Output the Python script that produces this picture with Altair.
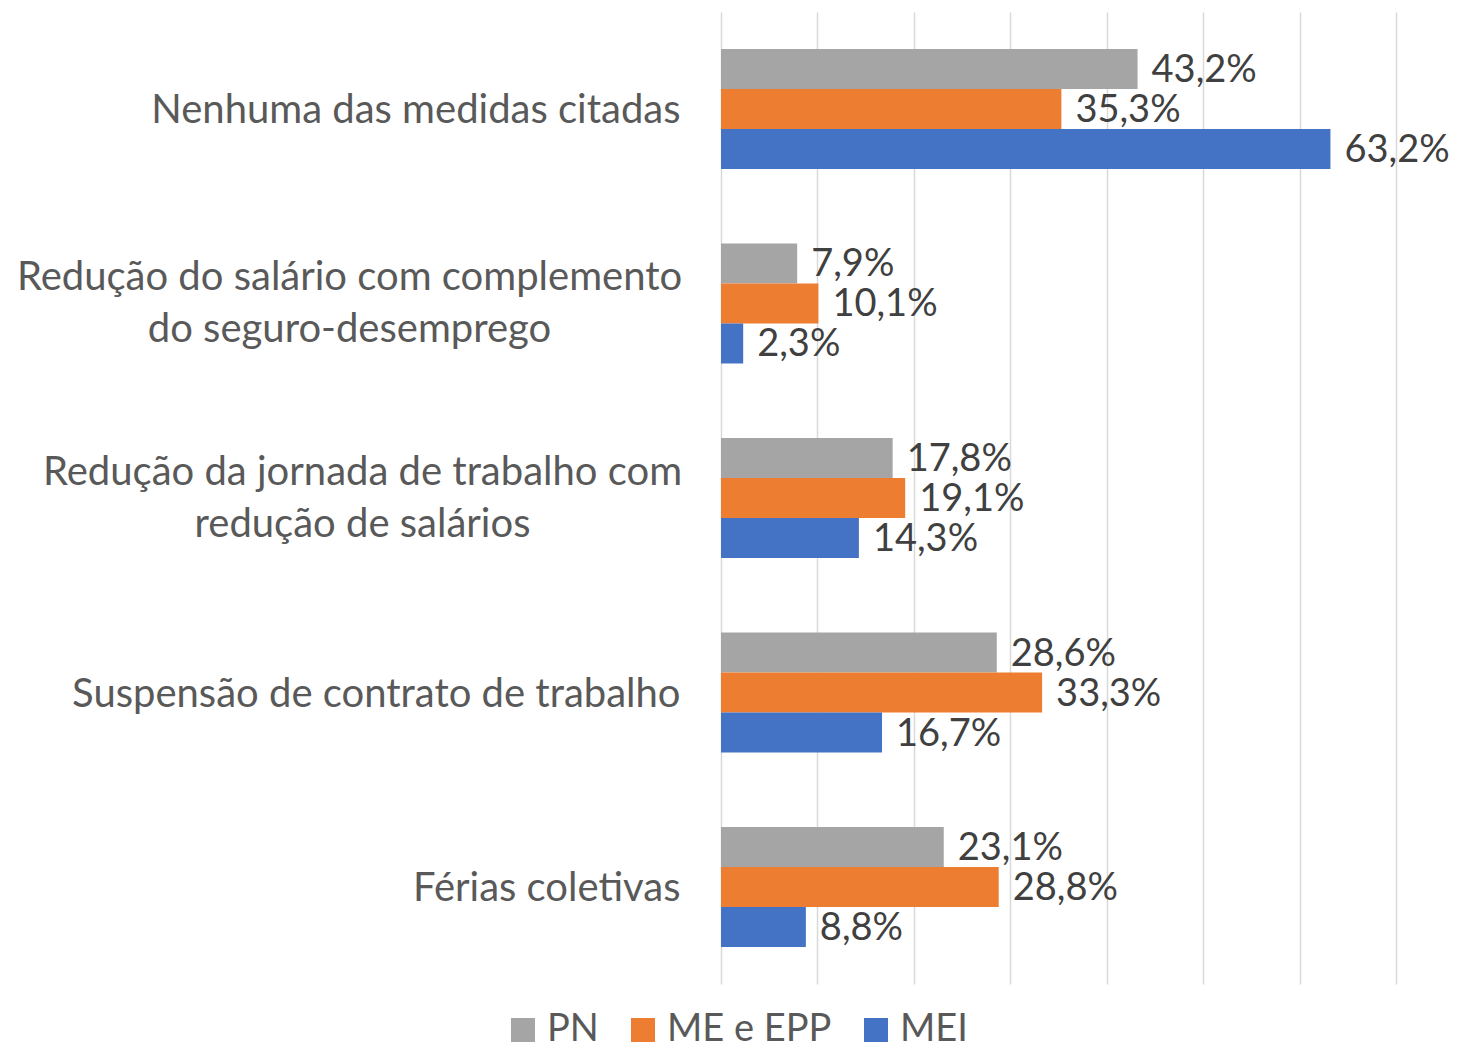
import altair as alt
import pandas as pd

categories = [
    "Nenhuma das medidas citadas",
    "Redução do salário com complemento\ndo seguro-desemprego",
    "Redução da jornada de trabalho com\nredução de salários",
    "Suspensão de contrato de trabalho",
    "Férias coletivas",
]
series = ["PN", "ME e EPP", "MEI"]
colors = ["#A5A5A5", "#ED7D31", "#4472C4"]
pn = [43.2, 7.9, 17.8, 28.6, 23.1]
me_epp = [35.3, 10.1, 19.1, 33.3, 28.8]
mei = [63.2, 2.3, 14.3, 16.7, 8.8]

rows = []
for i, c in enumerate(categories):
    for s, vals in zip(series, [pn, me_epp, mei]):
        rows.append({"cat": c, "serie": s, "v": vals[i]})
df = pd.DataFrame(rows)

FONT = "Lato"
MULTI = "indexof(datum.value, '\\n') >= 0"

base = alt.Chart(df).encode(
    y=alt.Y("cat:N", sort=categories,
            scale=alt.Scale(paddingInner=0.383, paddingOuter=0.19),
            axis=alt.Axis(title=None, ticks=False, domain=False,
                          labelPadding={"condition": [
                              {"test": "indexof(datum.value, 'complemento') >= 0", "value": 372},
                              {"test": "indexof(datum.value, 'jornada') >= 0", "value": 359},
                          ], "value": 41},
                          labelAlign={"condition": {"test": MULTI, "value": "center"}, "value": "right"},
                          labelOffset={"condition": {"test": MULTI, "value": -25}, "value": 2},
                          labelFont=FONT, labelFontSize=40, labelColor="#595959",
                          labelLineHeight=52, labelLimit=0,
                          labelExpr="split(datum.label, '\\n')")),
    yOffset=alt.YOffset("serie:N", sort=series, scale=alt.Scale(paddingInner=0, paddingOuter=0)),
)

bars = base.mark_bar().encode(
    x=alt.X("v:Q", scale=alt.Scale(domain=[0, 70], nice=False),
            axis=alt.Axis(title=None, labels=False, ticks=False, domain=False,
                          values=[0, 10, 20, 30, 40, 50, 60, 70],
                          gridColor="#D9D9D9", gridWidth=1.5)),
    color=alt.Color("serie:N", sort=series,
                    scale=alt.Scale(domain=series, range=colors),
                    legend=alt.Legend(title=None, orient="none", direction="horizontal",
                                      legendX=-217, legendY=999,
                                      symbolType="square", symbolSize=576,
                                      symbolStrokeWidth=0, symbolOpacity=1,
                                      labelFont=FONT, labelFontSize=38, labelLimit=0,
                                      labelColor="#595959", labelOffset=5,
                                      columnPadding=25, padding=0)),
)

labels = base.mark_text(align="left", baseline="middle", dx=14, dy=2, font=FONT,
                        fontSize=38, color="#404040").encode(
    x="v:Q",
    text="lbl:N",
).transform_calculate(lbl="replace(format(datum.v, '.1f'), '.', ',') + '%'")

chart = (bars + labels).properties(
    width=675, height=972,
    autosize=alt.AutoSizeParams(type="none"),
    padding={"left": 713, "top": 4, "right": 54, "bottom": 66},
).configure_view(stroke=None)

chart.save("out.html", embed_options={"renderer": "svg", "actions": False})
